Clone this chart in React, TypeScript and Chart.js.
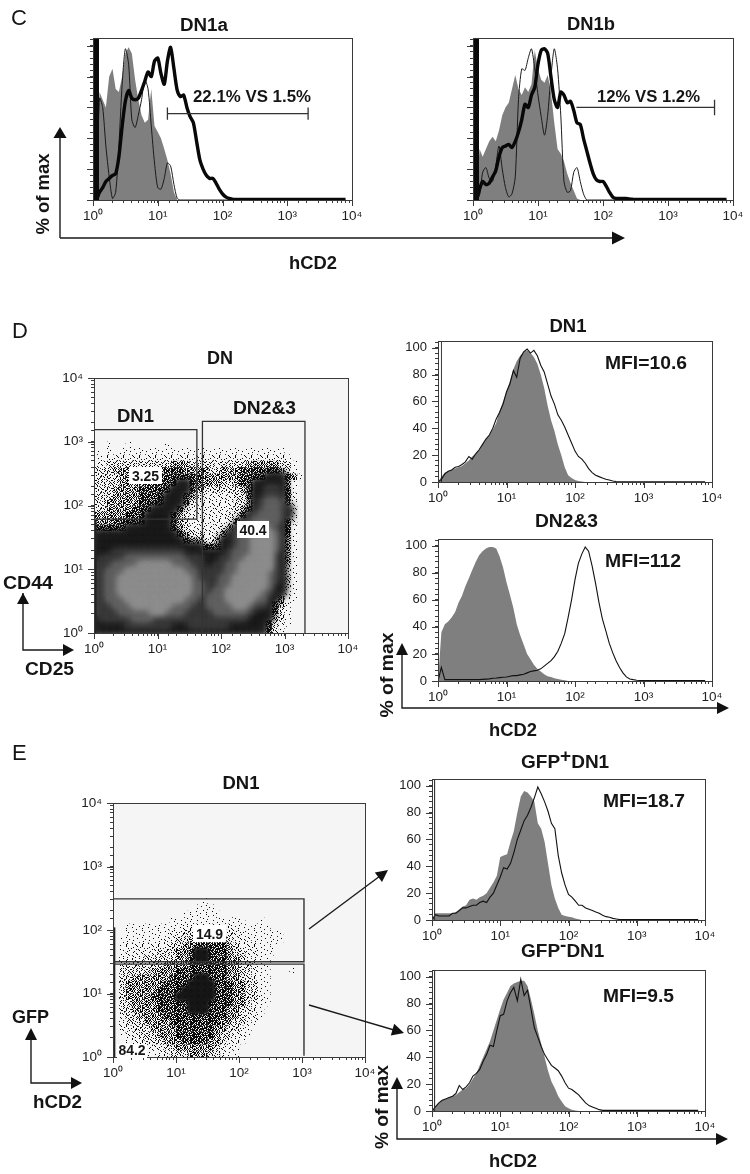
import React, { useEffect, useRef } from "react";
import { Chart, registerables } from "chart.js";

Chart.register(...registerables);

// ---- shared fluorescence bins (20 per decade) ----
const hcd2Bins = [
  1, 1.12, 1.26, 1.41, 1.58, 1.78, 2, 2.24, 2.51, 2.82, 3.16, 3.55, 3.98, 4.47, 5.01, 5.62, 6.31, 7.08, 7.94, 8.91,
  10, 11.2, 12.6, 14.1, 15.8, 17.8, 20, 22.4, 25.1, 28.2, 31.6, 35.5, 39.8, 44.7, 50.1, 56.2, 63.1, 70.8, 79.4, 89.1,
  100, 112, 126, 141, 158, 178, 200, 224, 251, 282, 316, 355, 398, 447, 501, 562, 631, 708, 794, 891,
  1000, 1120, 1260, 1410, 1580, 1780, 2000, 2240, 2510, 2820, 3160, 3550, 3980, 4470, 5010, 5620, 6310, 7080, 7940, 8910,
];

// ---- panel C ----
const dn1aShaded = [0, 0, 70, 65, 60, 80, 85, 72, 70, 80, 95, 99, 95, 78, 65, 55, 50, 52, 72, 48, 44, 40, 33, 26, 17, 5, 0];
const dn1aThin = [0, 0, 66, 60, 35, 15, 1, 5, 35, 75, 98, 88, 52, 47, 55, 65, 78, 72, 48, 24, 8, 7, 14, 24, 22, 10, 1, 0];
const dn1aThick = [0, 0, 5, 8, 12, 14, 16, 17, 28, 48, 64, 71, 66, 65, 66, 71, 77, 83, 80, 90, 92, 82, 75, 90, 99, 85, 71, 67, 68, 60, 54, 50, 38, 26, 20, 16, 14, 14, 11, 7, 4, 2, 1, 0.5, 0.3];
const dn1bShaded = [0, 0, 33, 28, 33, 38, 41, 38, 45, 55, 60, 63, 72, 81, 72, 68, 73, 70, 75, 97, 85, 78, 76, 81, 70, 50, 33, 30, 25, 17, 11, 6, 1, 0];
const dn1bThin = [0, 0, 3, 18, 21, 14, 12, 22, 35, 20, 8, 2, 4, 15, 65, 85, 84, 92, 98, 85, 68, 54, 42, 55, 80, 98, 85, 55, 12, 5, 6, 18, 21, 12, 4, 0];
const dn1bThick = [0, 0, 7, 12, 10, 11, 15, 19, 28, 34, 35, 36, 34, 38, 44, 52, 62, 60, 68, 73, 88, 97, 98, 95, 80, 65, 60, 70, 68, 63, 64, 58, 50, 49, 40, 32, 24, 17, 13, 12, 12, 9, 5, 2, 1, 1, 1, 1, 0.7, 0.5, 0.3];
const cSpikeX = [1, 1, 1.24, 1.24];
const spikeY = [0, 105, 105, 0];
const dn1aGateX = [14.1, 14.1, 14.1, 2100, 2100, 2100];
const dn1aGateY = [52, 60, 56, 56, 60, 52];
const dn1bGateX = [39, 5200, 5200, 5200];
const dn1bGateY = [60, 60, 65, 55];

// ---- panel D histograms ----
const dDn1Shaded = [0, 4, 7, 8, 9, 10, 11, 12, 14, 16, 19, 21, 24, 28, 32, 35, 39, 44, 53, 60, 68, 75, 84, 90, 94, 97, 98, 96, 93, 88, 80, 70, 57, 46, 38, 28, 20, 11, 5, 3, 1.5, 0.8, 0.3, 0];
const dDn1Line = [0, 2, 6, 8, 9, 11, 11.5, 13, 15, 19, 17, 21, 24, 28, 32, 35, 40, 47, 52, 58, 67, 73, 83, 78, 92, 97, 99, 96, 98, 94, 87, 82, 73, 64, 58, 50, 46, 41, 35, 29, 23, 19, 17, 14, 10, 7, 5, 4, 3, 2, 1.5, 0.8, 0.4, 0.2];
const dDn23Shaded = [0, 36, 42, 44, 47, 51, 58, 63, 70, 76, 82, 88, 93, 96, 98, 99, 99, 98, 92, 84, 73, 64, 54, 42, 34, 27, 20, 16, 12, 9, 7, 5, 3.5, 3, 2, 1.5, 1, 0.5, 0];
const dDn23Line = [0, 10, 1, 1, 1, 1, 1, 1, 1, 1, 1, 1, 1, 1.2, 1.4, 1.6, 2, 2.2, 2.5, 2.8, 3, 3.5, 4, 4, 4.5, 5, 6, 7, 7.5, 8, 9, 11, 13, 15, 18, 22, 28, 35, 47, 60, 75, 87, 94, 99, 96, 85, 72, 58, 46, 37, 28, 21, 15, 10, 6, 3, 1.5, 1, 0.6, 0.4];
const dSpikeX = [1.1, 1.1, 1.14, 1.14];

// ---- panel E histograms ----
const ePosShaded = [0, 5, 5, 5, 5, 5, 5, 6, 8, 10, 11, 15, 16, 15, 17, 18, 20, 24, 28, 33, 47, 48, 49, 58, 66, 80, 92, 96, 95, 92, 88, 72, 68, 58, 42, 26, 16, 9, 4, 3, 2.5, 2, 1.2, 0.5, 0];
const ePosLine = [0, 4, 3, 3, 3, 3, 5, 5, 7, 9, 9, 10, 11, 11, 13, 14, 13, 17, 20, 26, 32, 39, 38, 42, 50, 60, 67, 74, 78, 84, 91, 99, 94, 88, 81, 72, 68, 48, 35, 26, 19, 17, 14, 11, 11, 9, 8, 7, 6, 5, 3.5, 2.5, 2, 1.2, 0.8, 0.3];
const eNegShaded = [0, 3, 6, 8, 9, 10, 11, 12, 14, 16, 17, 20, 24, 28, 34, 40, 46, 52, 60, 68, 76, 83, 88, 93, 95, 96, 97, 97, 93, 83, 72, 60, 50, 40, 30, 22, 17, 11, 7, 3.5, 2, 1, 0.3, 0];
const eNegLine = [0, 3, 6, 8, 9, 10, 11, 13, 19, 16, 18, 21, 26, 28, 31, 37, 42, 49, 48, 60, 71, 72, 82, 88, 92, 82, 98, 86, 90, 76, 62, 55, 48, 42, 38, 34, 32, 30, 26, 21, 17, 16, 14, 12, 9, 6, 4, 3, 2, 1, 0.5];
const eSpikeX = [1.07, 1.07, 1.12, 1.12];

// ---- density grids: one character per 0.1-decade cell, top row first ----
const decadeBins = [1.12, 1.41, 1.78, 2.24, 2.82, 3.55, 4.47, 5.62, 7.08, 8.91, 11.2, 14.1, 17.8, 22.4, 28.2, 35.5, 44.7, 56.2, 70.8, 89.1, 112, 141, 178, 224, 282, 355, 447, 562, 708, 891, 1122, 1413, 1778, 2239];

const dnDensity = [
  "0010010000010000000000000000000000",
  "1010111111111111111111111111110000",
  "1122222222222222222222222222221000",
  "2233333333334443333233334444433100",
  "3334444444455544443344455555543100",
  "3333444555555555544444455556665410",
  "3333444455555665544433455666664100",
  "3334444555556665433333345667765100",
  "3334444555566654322222335667765200",
  "3344444555566653222222334678875200",
  "3344445556666532222222345678876200",
  "4444455566665432222223356788876200",
  "4445555566665432222223567888865200",
  "5555566666665432222234678898765100",
  "6666666666666543322346788999865100",
  "6666666666666654433466788999864100",
  "6666666666666666655566788999864100",
  "6667777777777766666667888999764100",
  "6777788888888877766677889999764100",
  "7778888999998887766778899999763100",
  "7788899999999988777778899998763100",
  "7788999999999998777788999998763100",
  "7788999999999998877788999998663100",
  "7788999999999998877889999987662100",
  "7788899999999988778889999886642100",
  "7778889999998887778888998776542000",
  "7777888889988877777888887666531000",
  "6777778887777777777777776666431000",
  "6666677777776667777776666665321000",
  "6666666666666666666666666665310000",
];

const dn1Density = [
  "00000000000000100000000000000",
  "00000000000001110000000000000",
  "00000000000111111000000000000",
  "00000000011111111111100100000",
  "00111111111222222221111110000",
  "00111111122333333332211111100",
  "01111111223344444432221111100",
  "01222222233445555543222111000",
  "01222223334456655543322111000",
  "02222333334456655544322110000",
  "02333333444455555544332110000",
  "03333344445555555544332110001",
  "03344444455556655544332110000",
  "03444444555566665554433110000",
  "03444445555666665554433110000",
  "03444455556666665554433210000",
  "03344445555566655554432110000",
  "03344445555566655544332100000",
  "02334444555555555544322100000",
  "02333444455555555443321000000",
  "02233344445555554433210000000",
  "01223334445555554332210000000",
  "00122333444555544322100000000",
  "00011222334444443221000000000",
  "00001112233344433211000000000",
];

const dnGate1X = [1, 41.7, 41.7, 1];
const dnGate1Y = [1550, 1550, 61, 61];
const dnGate2X = [51, 51, 2100, 2100];
const dnGate2Y = [1, 2090, 2090, 1];
const dnPileUpX = [1.06, 1.06];
const dnPileUpY = [1, 60];
const dn1GateUpX = [1, 1075, 1075, 1];
const dn1GateUpY = [309, 309, 31.6, 31.6];
const dn1GateLowX = [1, 1075, 1075];
const dn1GateLowY = [29, 29, 1.05];
const dn1PileUpX = [1.04, 1.04];
const dn1PileUpY = [1, 110];

// ---- texture tile for sparse dots: a pixel is inked when its digit is under the level's cut ----
const speckleTile = [
  "3a7f19c4e2b60d85", "c1e58b2f07d49a36", "60d29fa4b3e7158c", "f84b1e763ca052d9",
  "27c9a05db4f18e63", "9e3f6812d7c0a5b4", "b50a4dc7e1369f28", "1d86f3b9527ae0c4",
  "e47c20a19fd3b658", "5a9f3e6c08b2d714", "82d1b75f4ae6039c", "c60e94382d1fb7a5",
  "3fb7a1e5c6908d42", "94285d0b7f3ec1a6", "d1e6c3f82a45790b", "7b04a96e1dc8f352",
];
const speckleCuts: Record<string, number> = { "1": 1, "2": 2, "3": 4, "4": 8, "5": 12 };
const solidLevels: Record<string, string> = { "6": "#141414", "7": "#333333", "8": "#5c5c5c", "9": "#8a8a8a" };

const FONT = "'Liberation Sans', Arial, sans-serif";
const SUP = ["\u2070", "\u00b9", "\u00b2", "\u00b3", "\u2074"];
const pad = { l: 46, t: 22, r: 18, b: 28 };

const pts = (xs: number[], ys: number[]) => xs.map((x, i) => ({ x, y: ys[i] }));
const curve = (ys: number[]) =>
  hcd2Bins.slice(0, 79).map((x, i) => ({ x, y: i < ys.length ? ys[i] : ys[ys.length - 1] }));
const cells = (grid: string[], level: string) => {
  const out: { x: number; y: number }[] = [];
  grid.forEach((row, r) => {
    const yv = decadeBins[grid.length - 1 - r];
    for (let c = 0; c < row.length; c++) if (row[c] === level) out.push({ x: decadeBins[c], y: yv });
  });
  return out;
};

const makeSpeckle = (cut: number) => {
  const cv = document.createElement("canvas");
  cv.width = 16;
  cv.height = 16;
  const g = cv.getContext("2d")!;
  g.fillStyle = "#0a0a0a";
  speckleTile.forEach((row, y) => {
    for (let x = 0; x < 16; x++) if (parseInt(row[x], 16) < cut) g.fillRect(x, y, 1, 1);
  });
  return g.createPattern(cv, "repeat")!;
};

const fill = (data: any[], color: string) => ({
  data, showLine: true, pointRadius: 0, borderWidth: 0, borderColor: color, backgroundColor: color, fill: "origin",
});
const line = (data: any[], width: number, color = "#111") => ({
  data, showLine: true, pointRadius: 0, borderWidth: width, borderColor: color, fill: false,
});
const smooth = (set: any) => ({ ...set, tension: 0.25 });

const density = (grid: string[], blur: number, radius: number, grow: number) => {
  const sets: any[] = [];
  ["9", "8", "7", "6"].forEach((l) => {
    sets.push({ data: cells(grid, l), pointStyle: "rect", pointRadius: radius + grow, pointBorderWidth: 0, borderWidth: 0, backgroundColor: solidLevels[l], blur });
  });
  ["5", "4", "3", "2", "1"].forEach((l) => {
    sets.push({ data: cells(grid, l), pointStyle: "rect", pointRadius: radius, pointBorderWidth: 0, borderWidth: 0, backgroundColor: makeSpeckle(speckleCuts[l]), blur: 0.35 });
  });
  return sets;
};

const panelPlugin = {
  id: "panel",
  beforeDraw(chart: any, _a: any, o: any) {
    const { ctx, chartArea: a } = chart;
    if (o.bg) {
      ctx.fillStyle = o.bg;
      ctx.fillRect(a.left, a.top, a.right - a.left, a.bottom - a.top);
    }
  },
  beforeDatasetDraw(chart: any, args: any) {
    const ds = chart.data.datasets[args.index];
    if (ds.blur) {
      chart.ctx.save();
      chart.ctx.filter = `blur(${ds.blur}px)`;
    }
  },
  afterDatasetDraw(chart: any, args: any) {
    if (chart.data.datasets[args.index].blur) chart.ctx.restore();
  },
  afterDraw(chart: any) {
    const { ctx, chartArea: a, scales } = chart;
    ctx.save();
    ctx.strokeStyle = "#3a3a3a";
    ctx.lineWidth = 1;
    ctx.strokeRect(a.left + 0.5, a.top + 0.5, a.right - a.left, a.bottom - a.top);
    ctx.beginPath();
    scales.x.ticks.forEach((t: any) => {
      if (!t.major10) return;
      const p = Math.round(scales.x.getPixelForValue(t.value)) + 0.5;
      ctx.moveTo(p, a.bottom);
      ctx.lineTo(p, a.bottom + 6);
    });
    scales.y.ticks.forEach((t: any) => {
      if (!t.major10) return;
      const p = Math.round(scales.y.getPixelForValue(t.value)) + 0.5;
      ctx.moveTo(a.left, p);
      ctx.lineTo(a.left - 6, p);
    });
    ctx.stroke();
    ctx.restore();
  },
};

const isPow10 = (v: number) => Math.abs(Math.log10(v) - Math.round(Math.log10(v))) < 1e-6;
const logLabel = (v: number) => (isPow10(v) ? "10" + SUP[Math.round(Math.log10(v))] : "");

const logAxis = (size: number, horizontal: boolean) => ({
  type: "logarithmic",
  min: 1,
  max: 10000,
  border: { color: "#3a3a3a" },
  grid: { drawOnChartArea: false, tickLength: 3, tickColor: "#3a3a3a", tickWidth: 1 },
  ticks: {
    autoSkip: false, maxRotation: 0, minRotation: 0, color: "#222", padding: horizontal ? 5 : 8,
    font: { family: FONT, size: 13.5 },
    callback: logLabel,
  },
  afterFit: (s: any) => { if (horizontal) s.height = size; else s.width = size; },
  afterTickToLabelConversion: (s: any) => s.ticks.forEach((t: any) => { t.major10 = isPow10(t.value); }),
});

const pctAxis = (showLabels: boolean) => ({
  type: "linear",
  min: 0,
  max: 105,
  border: { color: "#3a3a3a" },
  grid: { drawOnChartArea: false, tickLength: 3, tickColor: "#3a3a3a", tickWidth: 1 },
  ticks: {
    stepSize: 4, includeBounds: false, autoSkip: false, maxRotation: 0, color: "#222", padding: 8,
    font: { family: FONT, size: 13 },
    callback: (v: number) => (showLabels && v % 20 === 0 ? String(v) : ""),
  },
  afterFit: (s: any) => { s.width = pad.l; },
  afterTickToLabelConversion: (s: any) => s.ticks.forEach((t: any) => { t.major10 = t.value % 20 === 0; }),
});

const gate = (xs: number[], ys: number[], w = 1.3) => line(pts(xs, ys), w, "#333");

type Panel = { box: number[]; y: "pct" | "pctLabeled" | "log"; bg?: string; sets: () => any[] };

const panels: Panel[] = [
  { box: [93, 38, 352, 200], y: "pct", sets: () => [
    gate(dn1aGateX, dn1aGateY),
    fill(pts(cSpikeX, spikeY), "#0a0a0a"),
    smooth(line(curve(dn1aThick), 3.4, "#080808")),
    smooth(line(curve(dn1aThin), 1, "#1a1a1a")),
    fill(curve(dn1aShaded), "#7f7f7f"),
  ] },
  { box: [473, 38, 733, 200], y: "pct", sets: () => [
    gate(dn1bGateX, dn1bGateY),
    fill(pts(cSpikeX, spikeY), "#0a0a0a"),
    smooth(line(curve(dn1bThick), 3.4, "#080808")),
    smooth(line(curve(dn1bThin), 1, "#1a1a1a")),
    fill(curve(dn1bShaded), "#7f7f7f"),
  ] },
  { box: [438, 341, 712, 482], y: "pctLabeled", sets: () => [
    fill(pts(dSpikeX, spikeY), "#111"),
    line(curve(dDn1Line), 1.1),
    fill(curve(dDn1Shaded), "#7f7f7f"),
  ] },
  { box: [438, 539, 712, 681], y: "pctLabeled", sets: () => [
    line(curve(dDn23Line), 1.1),
    fill(curve(dDn23Shaded), "#7f7f7f"),
  ] },
  { box: [432, 779, 705, 920], y: "pctLabeled", sets: () => [
    fill(pts(eSpikeX, spikeY), "#333"),
    line(curve(ePosLine), 1.1),
    fill(curve(ePosShaded), "#7f7f7f"),
  ] },
  { box: [432, 970, 705, 1111], y: "pctLabeled", sets: () => [
    fill(pts(eSpikeX, spikeY), "#333"),
    line(curve(eNegLine), 1.1),
    fill(curve(eNegShaded), "#7f7f7f"),
  ] },
  { box: [94, 378, 348, 633], y: "log", bg: "#f5f5f5", sets: () => [
    gate(dnGate1X, dnGate1Y),
    gate(dnGate2X, dnGate2Y),
    line(pts(dnPileUpX, dnPileUpY), 2, "#222"),
    ...density(dnDensity, 3, 4.6, 2.6),
  ] },
  { box: [113, 803, 365, 1057], y: "log", bg: "#f5f5f5", sets: () => [
    gate(dn1GateUpX, dn1GateUpY, 1.4),
    gate(dn1GateLowX, dn1GateLowY, 1.4),
    line(pts(dn1PileUpX, dn1PileUpY), 2.5, "#222"),
    ...density(dn1Density, 1.6, 4.6, 2),
  ] },
];

const T = ({ x, y, s = 18, w, a = "start", b = true, rot, children }: any) => (
  <text
    x={x} y={y} fontSize={s} fontFamily={FONT} fontWeight={b ? 700 : 400} fill="#151515" textAnchor={a}
    textLength={w} lengthAdjust={w ? "spacingAndGlyphs" : undefined}
    transform={rot ? `rotate(${rot} ${x} ${y})` : undefined}
  >
    {children}
  </text>
);
const L = ({ d }: { d: string }) => <path d={d} fill="none" stroke="#1a1a1a" strokeWidth={1.4} />;
const Box = ({ x, y, w, h, label, size = 14 }: any) => (
  <g>
    <rect x={x} y={y} width={w} height={h} fill="#fff" />
    <T x={x + w / 2} y={y + h - 3.5} s={size} a="middle">{label}</T>
  </g>
);

export default function App() {
  const refs = useRef<(HTMLCanvasElement | null)[]>([]);
  useEffect(() => {
    const charts = panels.map((p, i) => {
      const cfg: any = {
        type: "scatter",
        data: { datasets: p.sets() },
        plugins: [panelPlugin],
        options: {
          animation: false,
          responsive: false,
          layout: { autoPadding: false, padding: { top: pad.t, right: pad.r, left: 0, bottom: 0 } },
          plugins: { legend: { display: false }, tooltip: { enabled: false }, panel: { bg: p.bg } },
          scales: {
            x: logAxis(pad.b, true),
            y: p.y === "log" ? logAxis(pad.l, false) : pctAxis(p.y === "pctLabeled"),
          },
        },
      };
      return new Chart(refs.current[i]!, cfg);
    });
    return () => charts.forEach((c) => c.destroy());
  }, []);

  return (
    <div style={{ position: "absolute", left: 0, top: 0, width: 750, height: 1174, overflow: "hidden", background: "#fff" }}>
      {panels.map((p, i) => {
        const [x0, y0, x1, y1] = p.box;
        return (
          <canvas
            key={i}
            ref={(el) => { refs.current[i] = el; }}
            width={x1 - x0 + pad.l + pad.r}
            height={y1 - y0 + pad.t + pad.b}
            style={{ position: "absolute", left: x0 - pad.l, top: y0 - pad.t }}
          />
        );
      })}
      <svg width={750} height={1174} style={{ position: "absolute", left: 0, top: 0 }}>
        {/* panel C */}
        <T x={11} y={25} s={22} b={false}>C</T>
        <T x={204} y={31} a="middle" w={48}>DN1a</T>
        <T x={591} y={30} a="middle" w={48}>DN1b</T>
        <T x={193} y={102} s={16} w={118}>22.1% VS 1.5%</T>
        <T x={597} y={102} s={16} w={103}>12% VS 1.2%</T>
        <T x={49} y={194} a="middle" w={81} rot={-90}>% of max</T>
        <T x={289} y={269} w={48}>hCD2</T>
        <L d="M60 238V136M60 238H614" />
        <polygon points="60,127 53.5,138 66.5,138" fill="#111" />
        <polygon points="625,238 612,231.5 612,244.5" fill="#111" />
        {/* panel D */}
        <T x={12} y={338} s={22} b={false}>D</T>
        <T x={220} y={364} a="middle" w={26}>DN</T>
        <T x={117} y={422} w={37}>DN1</T>
        <T x={233} y={414} w={63}>DN2&amp;3</T>
        <Box x={129} y={467} w={33} h={17} label="3.25" />
        <Box x={237} y={521} w={32} h={17} label="40.4" />
        <T x={3} y={589} w={50}>CD44</T>
        <T x={25} y={675} w={49}>CD25</T>
        <L d="M23 593V650H66" />
        <polygon points="23,593 17,604 29,604" fill="#111" />
        <polygon points="74,650 63,644 63,656" fill="#111" />
        <T x={568} y={332} a="middle" w={37}>DN1</T>
        <T x={605} y={369} w={82}>MFI=10.6</T>
        <T x={535} y={527} w={63}>DN2&amp;3</T>
        <T x={605} y={567} w={76}>MFI=112</T>
        <T x={393} y={675} a="middle" w={85} rot={-90}>% of max</T>
        <T x={489} y={736} w={48}>hCD2</T>
        <L d="M402 652V708H720" />
        <polygon points="402,643 396,655 408,655" fill="#111" />
        <polygon points="729,708 717,702 717,714" fill="#111" />
        {/* panel E */}
        <T x={12} y={760} s={22} b={false}>E</T>
        <T x={241} y={789} a="middle" w={37}>DN1</T>
        <Box x={193} y={925} w={33} h={17} label="14.9" />
        <Box x={117} y={1044} w={30} h={14} label="84.2" />
        <T x={12} y={1023} w={37}>GFP</T>
        <T x={33} y={1108} w={49}>hCD2</T>
        <L d="M31 1035V1083H75" />
        <polygon points="31,1028 25,1040 37,1040" fill="#111" />
        <polygon points="82,1083 71,1077 71,1089" fill="#111" />
        <L d="M309 929L380 876" />
        <polygon points="388,870 382,882 374.8,872.4" fill="#111" />
        <L d="M309 1005L394 1030" />
        <polygon points="404,1033 390.8,1035.4 394.2,1023.8" fill="#111" />
        <T x={521} y={768} s={19}>GFP<tspan dy={-6}>+</tspan><tspan dy={6}>DN1</tspan></T>
        <T x={603} y={807} w={82}>MFI=18.7</T>
        <T x={521} y={957} s={19}>GFP<tspan dy={-6}>-</tspan><tspan dy={6}>DN1</tspan></T>
        <T x={603} y={1002} w={71}>MFI=9.5</T>
        <T x={388} y={1107} a="middle" w={84} rot={-90}>% of max</T>
        <T x={489} y={1167} w={48}>hCD2</T>
        <L d="M397 1086V1139H720" />
        <polygon points="397,1077 391,1089 403,1089" fill="#111" />
        <polygon points="728,1139 716,1133 716,1145" fill="#111" />
      </svg>
    </div>
  );
}
